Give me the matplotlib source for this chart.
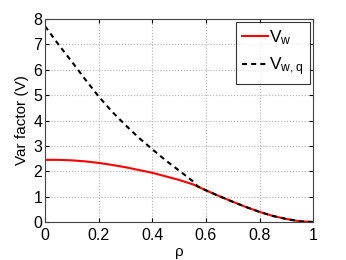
import matplotlib
matplotlib.use("Agg")
import matplotlib.pyplot as plt

plt.rcParams['font.family'] = ['Liberation Sans', 'DejaVu Sans']

rho = [0.0, 0.05, 0.1, 0.15, 0.2, 0.25, 0.3, 0.35, 0.4, 0.45, 0.5, 0.55, 0.57,
       0.6, 0.65, 0.7, 0.75, 0.8, 0.85, 0.9, 0.95, 1.0]
v_w = [2.45, 2.45, 2.43, 2.39, 2.33, 2.25, 2.16, 2.05, 1.94, 1.80, 1.66, 1.49, 1.40,
       1.25, 1.02, 0.80, 0.59, 0.40, 0.24, 0.12, 0.03, 0.0]
v_wq = [7.72, 7.0, 6.32, 5.62, 4.95, 4.35, 3.82, 3.32, 2.87, 2.43, 2.03, 1.62, 1.40,
        1.25, 1.02, 0.80, 0.59, 0.40, 0.24, 0.12, 0.03, 0.0]

fig = plt.figure(figsize=(3.46, 2.6), dpi=100)
ax = fig.add_axes([0.130, 0.146, 0.775, 0.781])
ax.plot(rho, v_w, color='red', lw=1.5, label=r'$\mathregular{V_w}$')
ax.plot(rho, v_wq, color='black', lw=1.5, ls=(0, (2.4, 2.0)), label=r'$\mathregular{V_{w,q}}$')
ax.set(xlim=[0, 1], ylim=[0, 8])
ax.set_xticks([0, 0.2, 0.4, 0.6, 0.8, 1])
ax.set_xticklabels(['0', '0.2', '0.4', '0.6', '0.8', '1'])
ax.set_yticks(range(0, 9))
ax.tick_params(direction='in', labelsize=11.5, length=3, top=True, right=True)
ax.tick_params(axis='x', pad=4.5)
ax.tick_params(axis='y', pad=2)
ax.grid(True, ls=':', color='#b0b0b0', lw=0.8)
ax.set_xlabel('ρ', fontsize=11, labelpad=1)
ax.set_ylabel('Var factor (V)', fontsize=11, labelpad=3)
for s in ax.spines.values():
    s.set_color('#444444')
leg = ax.legend(loc='upper right', fontsize=12.5, fancybox=False, edgecolor='black',
                handlelength=1.45, handletextpad=0.1, borderpad=0.35, labelspacing=0.45,
                borderaxespad=0.2)
leg.get_frame().set_linewidth(0.8)
fig.savefig('out.png', dpi=100)
